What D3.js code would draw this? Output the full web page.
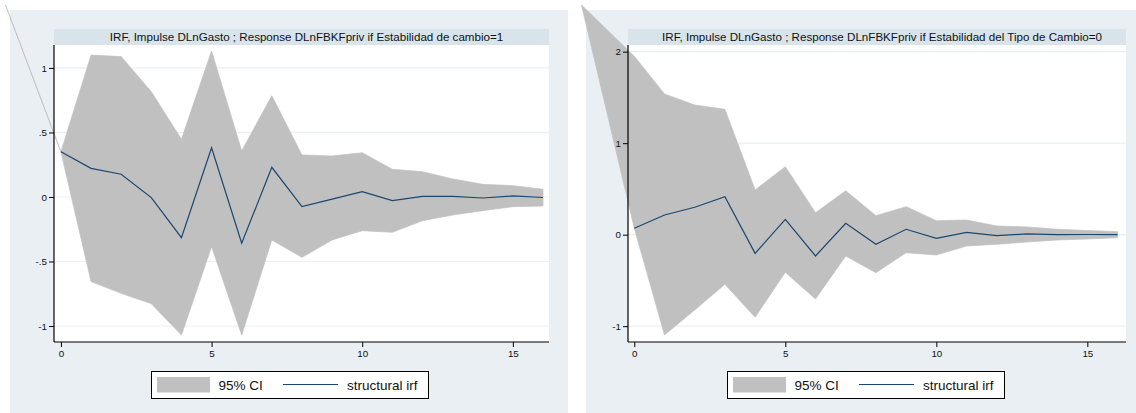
<!DOCTYPE html>
<html>
<head>
<meta charset="utf-8">
<script src="https://cdn.jsdelivr.net/npm/d3@7"></script>
<style>
  html, body { margin: 0; padding: 0; background: #ffffff; }
  svg { display: block; }
  text { font-family: "Liberation Sans", Arial, Helvetica, sans-serif; fill: #111; }
</style>
</head>
<body>
<svg id="chart" width="1136" height="413"></svg>
<script>
// Forecast horizon (steps)
const steps = [0, 1, 2, 3, 4, 5, 6, 7, 8, 9, 10, 11, 12, 13, 14, 15, 16];

// Panel A: Estabilidad de cambio = 1
const titleA = "IRF, Impulse DLnGasto ; Response DLnFBKFpriv if Estabilidad de cambio=1";
const irfA   = [0.35, 0.222, 0.176, -0.005, -0.315, 0.382, -0.359, 0.230, -0.075, -0.016, 0.041, -0.028, 0.004, 0.005, -0.008, 0.008, -0.004];
const upperA = [0.35, 1.100, 1.088, 0.816, 0.447, 1.132, 0.357, 0.785, 0.326, 0.318, 0.343, 0.215, 0.196, 0.140, 0.098, 0.088, 0.060];
const lowerA = [0.35, -0.656, -0.747, -0.827, -1.070, -0.385, -1.070, -0.333, -0.468, -0.333, -0.261, -0.274, -0.184, -0.140, -0.106, -0.075, -0.070];
const yTicksA = [-1, -0.5, 0, 0.5, 1];
const yLabelsA = ["-1", "-.5", "0", ".5", "1"];

// Panel B: Estabilidad del Tipo de Cambio = 0
const titleB = "IRF, Impulse DLnGasto ; Response DLnFBKFpriv if Estabilidad del Tipo de Cambio=0";
const irfB   = [0.07, 0.215, 0.300, 0.415, -0.204, 0.168, -0.233, 0.124, -0.105, 0.059, -0.040, 0.026, -0.010, 0.008, 0.000, 0.002, 0.000];
const upperB = [1.95, 1.538, 1.417, 1.370, 0.489, 0.743, 0.240, 0.480, 0.208, 0.306, 0.153, 0.160, 0.095, 0.085, 0.059, 0.045, 0.033];
const lowerB = [0.07, -1.096, -0.823, -0.542, -0.903, -0.411, -0.703, -0.233, -0.415, -0.197, -0.222, -0.124, -0.105, -0.080, -0.058, -0.047, -0.033];
const yTicksB = [-1, 0, 1, 2];
const yLabelsB = ["-1", "0", "1", "2"];

const xTicks = [0, 5, 10, 15];
const legendLabels = ["95% CI", "structural irf"];

const COLORS = {
  region: "#e9eff2",
  strip: "#d8e4ea",
  grid: "#eaf1f3",
  ci: "#c0c0c0",
  line: "#1a476f",
  axis: "#000000"
};

// Layout of each panel (pixels)
const panels = [
  {
    title: titleA, irf: irfA, upper: upperA, lower: lowerA,
    yTicks: yTicksA, yLabels: yLabelsA,
    bg: { x: 10, y: 10, w: 558, h: 403 },
    plot: { x0: 54, x1: 549, y0: 45, y1: 342 },
    xDomain: [-0.23, 16.2], yDomain: [-1.124, 1.178],
    legend: { x: 151, y: 371, w: 277, h: 27 },
    titleDx: 5
  },
  {
    title: titleB, irf: irfB, upper: upperB, lower: lowerB,
    yTicks: yTicksB, yLabels: yLabelsB,
    bg: { x: 586, y: 10, w: 550, h: 403 },
    plot: { x0: 628, x1: 1126, y0: 45, y1: 342 },
    xDomain: [-0.209, 16.28], yDomain: [-1.173, 2.073],
    legend: { x: 727, y: 371, w: 277, h: 27 },
    titleDx: 5
  }
];

const svg = d3.select("#chart");

panels.forEach(p => {
  const g = svg.append("g");

  // graph region
  g.append("rect")
    .attr("x", p.bg.x).attr("y", p.bg.y)
    .attr("width", p.bg.w).attr("height", p.bg.h)
    .attr("fill", COLORS.region);

  // plot region
  g.append("rect")
    .attr("x", p.plot.x0).attr("y", p.plot.y0)
    .attr("width", p.plot.x1 - p.plot.x0).attr("height", p.plot.y1 - p.plot.y0)
    .attr("fill", "#ffffff");

  const x = d3.scaleLinear().domain(p.xDomain).range([p.plot.x0, p.plot.x1]);
  const y = d3.scaleLinear().domain(p.yDomain).range([p.plot.y1, p.plot.y0]);

  // horizontal grid lines
  g.append("g").selectAll("line")
    .data(p.yTicks)
    .join("line")
    .attr("x1", p.plot.x0 + 1).attr("x2", p.plot.x1)
    .attr("y1", d => y(d)).attr("y2", d => y(d))
    .attr("stroke", COLORS.grid).attr("stroke-width", 1.2);

  // confidence band: polygon anchored at the graph region's corner,
  // running along the upper bound and back along the lower bound
  const anchor = [p.bg.x - 4.5, 5];
  const bandPts = [anchor]
    .concat(steps.map((s, i) => [x(s), y(p.upper[i])]))
    .concat(steps.slice().reverse().map(s => [x(s), y(p.lower[steps.indexOf(s)])]));
  g.append("path")
    .attr("d", d3.line()(bandPts) + "Z")
    .attr("fill", COLORS.ci)
    .attr("stroke", COLORS.ci)
    .attr("stroke-width", 0.7)
    .attr("stroke-linejoin", "miter");

  // structural irf
  g.append("path")
    .datum(steps.map((s, i) => [s, p.irf[i]]))
    .attr("d", d3.line().x(d => x(d[0])).y(d => y(d[1])))
    .attr("fill", "none")
    .attr("stroke", COLORS.line)
    .attr("stroke-width", 1.2);

  // y axis
  const yAxis = d3.axisLeft(y)
    .tickValues(p.yTicks)
    .tickFormat((d, i) => p.yLabels[i])
    .tickSize(5).tickPadding(2);
  const ya = g.append("g")
    .attr("transform", `translate(${p.plot.x0},0)`)
    .call(yAxis);
  ya.select(".domain").attr("d", `M0,${p.plot.y0}V${p.plot.y1}`).attr("stroke", COLORS.axis).attr("stroke-width", 1.2);
  ya.selectAll(".tick line").attr("stroke", COLORS.axis);
  ya.selectAll(".tick text").attr("font-size", 9.8).attr("fill", "#111")
    .attr("font-family", "Liberation Sans, Arial, sans-serif");

  // x axis
  const xAxis = d3.axisBottom(x)
    .tickValues(xTicks)
    .tickFormat(d3.format("d"))
    .tickSize(5).tickPadding(3);
  const xa = g.append("g")
    .attr("transform", `translate(0,${p.plot.y1})`)
    .call(xAxis);
  xa.select(".domain").attr("d", `M${p.plot.x0},0H${p.plot.x1}`).attr("stroke", COLORS.axis).attr("stroke-width", 1.2);
  xa.selectAll(".tick line").attr("stroke", COLORS.axis);
  xa.selectAll(".tick text").attr("font-size", 9.8).attr("fill", "#111")
    .attr("font-family", "Liberation Sans, Arial, sans-serif");

  // title strip
  g.append("rect")
    .attr("x", p.plot.x0).attr("y", 29)
    .attr("width", p.plot.x1 - p.plot.x0).attr("height", 16)
    .attr("fill", COLORS.strip);
  g.append("text")
    .attr("x", (p.plot.x0 + p.plot.x1) / 2 + p.titleDx)
    .attr("y", 41)
    .attr("text-anchor", "middle")
    .attr("font-size", 11.6)
    .text(p.title);

  // legend
  const L = p.legend;
  const lg = g.append("g").attr("transform", `translate(${L.x},${L.y})`);
  lg.append("rect")
    .attr("x", 0.5).attr("y", 0.5).attr("width", L.w).attr("height", L.h)
    .attr("fill", "#ffffff").attr("stroke", "#000").attr("stroke-width", 1);
  lg.append("rect")
    .attr("x", 6).attr("y", 6).attr("width", 53).attr("height", 15.5)
    .attr("fill", COLORS.ci);
  lg.append("text")
    .attr("x", 67.5).attr("y", 19)
    .attr("font-size", 13.5)
    .text(legendLabels[0]);
  lg.append("line")
    .attr("x1", 132).attr("x2", 187).attr("y1", 13.5).attr("y2", 13.5)
    .attr("stroke", COLORS.line).attr("stroke-width", 1.2);
  lg.append("text")
    .attr("x", 196).attr("y", 19)
    .attr("font-size", 13.5)
    .text(legendLabels[1]);
});
</script>
</body>
</html>
